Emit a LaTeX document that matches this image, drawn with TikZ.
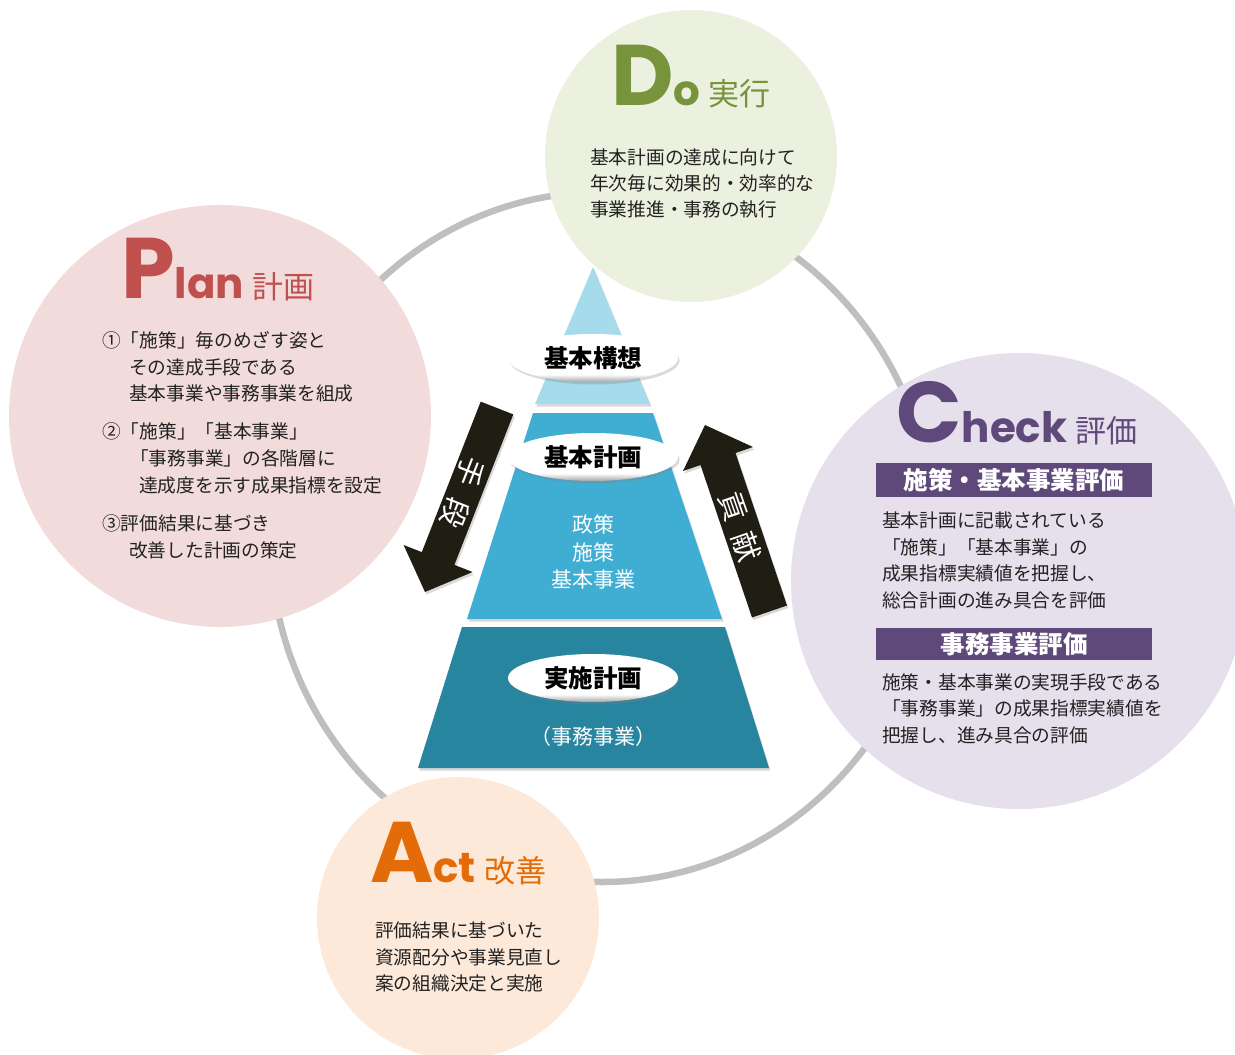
\documentclass[tikz,border=0pt]{standalone}
\usepackage{fontspec}
\setmainfont{Noto Sans CJK JP}
\newfontfamily\latinbig{Poppins}
\usetikzlibrary{shapes.geometric,shadows}
\definecolor{ringgray}{HTML}{BFBFBF}
\definecolor{plancol}{HTML}{F2DCDB}
\definecolor{planfg}{HTML}{C0504D}
\definecolor{docol}{HTML}{EBF1DE}
\definecolor{dofg}{HTML}{77933C}
\definecolor{checkcol}{HTML}{E5E0EC}
\definecolor{checkfg}{HTML}{5F497A}
\definecolor{actcol}{HTML}{FDE9D9}
\definecolor{actfg}{HTML}{E36C09}
\definecolor{pyrA}{HTML}{A5DBEB}
\definecolor{pyrB}{HTML}{40AED2}
\definecolor{pyrC}{HTML}{2785A0}
\definecolor{arrowcol}{HTML}{201D12}
\definecolor{bodytext}{HTML}{222222}
\pgfdeclareverticalshading{bubbleshade}{100bp}{color(0bp)=(black!35); color(25bp)=(black!35); color(33bp)=(white); color(100bp)=(white)}
\newcommand\pdcatitle[3]{{\latinbig\bfseries\fontsize{86}{86}\selectfont #1}{\latinbig\bfseries\fontsize{42}{42}\selectfont #2}\hspace{8pt}{\fontsize{31}{31}\selectfont #3}}
\tikzset{
  bodyline/.style={anchor=west, inner sep=0pt, text=bodytext, font=\fontsize{18.7}{22}\selectfont},
  titlenode/.style={anchor=base west, inner sep=0pt},
  lvlbubble/.style={ellipse, minimum width=170pt, minimum height=48pt, inner sep=0pt,
     shading=bubbleshade,
     drop shadow={opacity=0.3, shadow xshift=1.5pt, shadow yshift=-2.5pt},
     font=\bfseries\fontsize{24.5}{26}\selectfont, text=black},
  pyrtext/.style={inner sep=0pt, text=white, font=\fontsize{21}{24}\selectfont},
  segshadow/.style={drop shadow={opacity=0.3, shadow xshift=1.5pt, shadow yshift=-2.5pt}},
  arrowtext/.style={inner sep=0pt, text=white, font=\fontsize{29}{30}\selectfont},
  checkhead/.style={fill=checkfg, text=white, minimum width=276pt, minimum height=34pt, inner sep=0pt,
     font=\bfseries\fontsize{24.5}{26}\selectfont}
}
\begin{document}
\begin{tikzpicture}[x=1pt,y=-1pt]
\useasboundingbox (0,0) rectangle (1235,1055);
\clip (0,0) rectangle (1235,1055);
% ring
\draw[ringgray, line width=6.5pt] (602,537) ellipse [x radius=332, y radius=345];
% circles
\fill[plancol] (220,416) circle [radius=211];
\fill[docol] (691,156) circle [radius=146];
\fill[checkcol] (1019,581) circle [radius=228];
\fill[actcol] (458,918) circle [radius=141];
% pyramid
\fill[pyrA, segshadow] (593,267) -- (650,404) -- (535,404) -- cycle;
\fill[pyrB, segshadow] (533,413) -- (653,413) -- (722,619) -- (467,619) -- cycle;
\fill[pyrC, segshadow] (462,627) -- (725,627) -- (769,768) -- (418,768) -- cycle;
\node[lvlbubble] (kousou) at (593,358) {基本構想};
\node[lvlbubble] (keikaku) at (593,457) {基本計画};
\node[lvlbubble] (jisshi) at (593,678) {実施計画};
\node[pyrtext] (seisaku) at (593,524) {政策};
\node[pyrtext] (shisaku) at (593,552) {施策};
\node[pyrtext] (kihonjigyo) at (593,580) {基本事業};
\node[pyrtext] (jimujigyo) at (593,737) {（事務事業）};
% arrows
\fill[arrowcol, segshadow] (480.7,401.6) -- (513.3,414.4) -- (454.4,564.9) -- (472.6,572) -- (425,592) -- (403.6,545) -- (421.8,552.1) -- cycle;
\node[arrowtext, rotate=-111.4] (te) at (470,472) {手};
\node[arrowtext, rotate=-111.4] (dan) at (455,513) {段};
\fill[arrowcol, segshadow] (705,425) -- (753,447) -- (735.5,453) -- (787,605.5) -- (752,617.5) -- (700.5,465) -- (683,471) -- cycle;
\node[arrowtext, rotate=-70.9] (kou) at (733,507) {貢};
\node[arrowtext, rotate=-70.9] (ken) at (747,547) {献};
% Plan
\node[titlenode, text=planfg] (plantitle) at (121,298) {\pdcatitle{P}{lan}{計画}};
\node[bodyline] (p1) at (102,340) {①「施策」毎のめざす姿と};
\node[bodyline] (p2) at (129,367) {その達成手段である};
\node[bodyline] (p3) at (129,393) {基本事業や事務事業を組成};
\node[bodyline] (p4) at (102,431) {②「施策」「基本事業」};
\node[bodyline] (p5) at (130,458) {「事務事業」の各階層に};
\node[bodyline] (p6) at (139,485) {達成度を示す成果指標を設定};
\node[bodyline] (p7) at (102,523) {③評価結果に基づき};
\node[bodyline] (p8) at (129,550) {改善した計画の策定};
% Do
\node[titlenode, text=dofg] (dotitle) at (611,105) {\pdcatitle{D}{o}{実行}};
\node[bodyline] (d1) at (590,157) {基本計画の達成に向けて};
\node[bodyline] (d2) at (590,183) {年次毎に効果的・効率的な};
\node[bodyline] (d3) at (590,210) {事業推進・事務の執行};
% Check
\node[titlenode, text=checkfg] (checktitle) at (896,442) {\pdcatitle{C}{heck}{評価}};
\node[checkhead] (ch1) at (1014,480) {施策・基本事業評価};
\node[bodyline] (c1) at (882,520) {基本計画に記載されている};
\node[bodyline] (c2) at (882,547) {「施策」「基本事業」の};
\node[bodyline] (c3) at (882,573) {成果指標実績値を把握し、};
\node[bodyline] (c4) at (882,600) {総合計画の進み具合を評価};
\node[checkhead, minimum height=32pt] (ch2) at (1014,644) {事務事業評価};
\node[bodyline] (c5) at (882,682) {施策・基本事業の実現手段である};
\node[bodyline] (c6) at (882,708) {「事務事業」の成果指標実績値を};
\node[bodyline] (c7) at (882,735) {把握し、進み具合の評価};
% Act
\node[titlenode, text=actfg] (acttitle) at (370,882) {\pdcatitle{A}{ct}{改善}};
\node[bodyline] (a1) at (375,930) {評価結果に基づいた};
\node[bodyline] (a2) at (375,957) {資源配分や事業見直し};
\node[bodyline] (a3) at (375,983) {案の組織決定と実施};
\end{tikzpicture}
\end{document}
